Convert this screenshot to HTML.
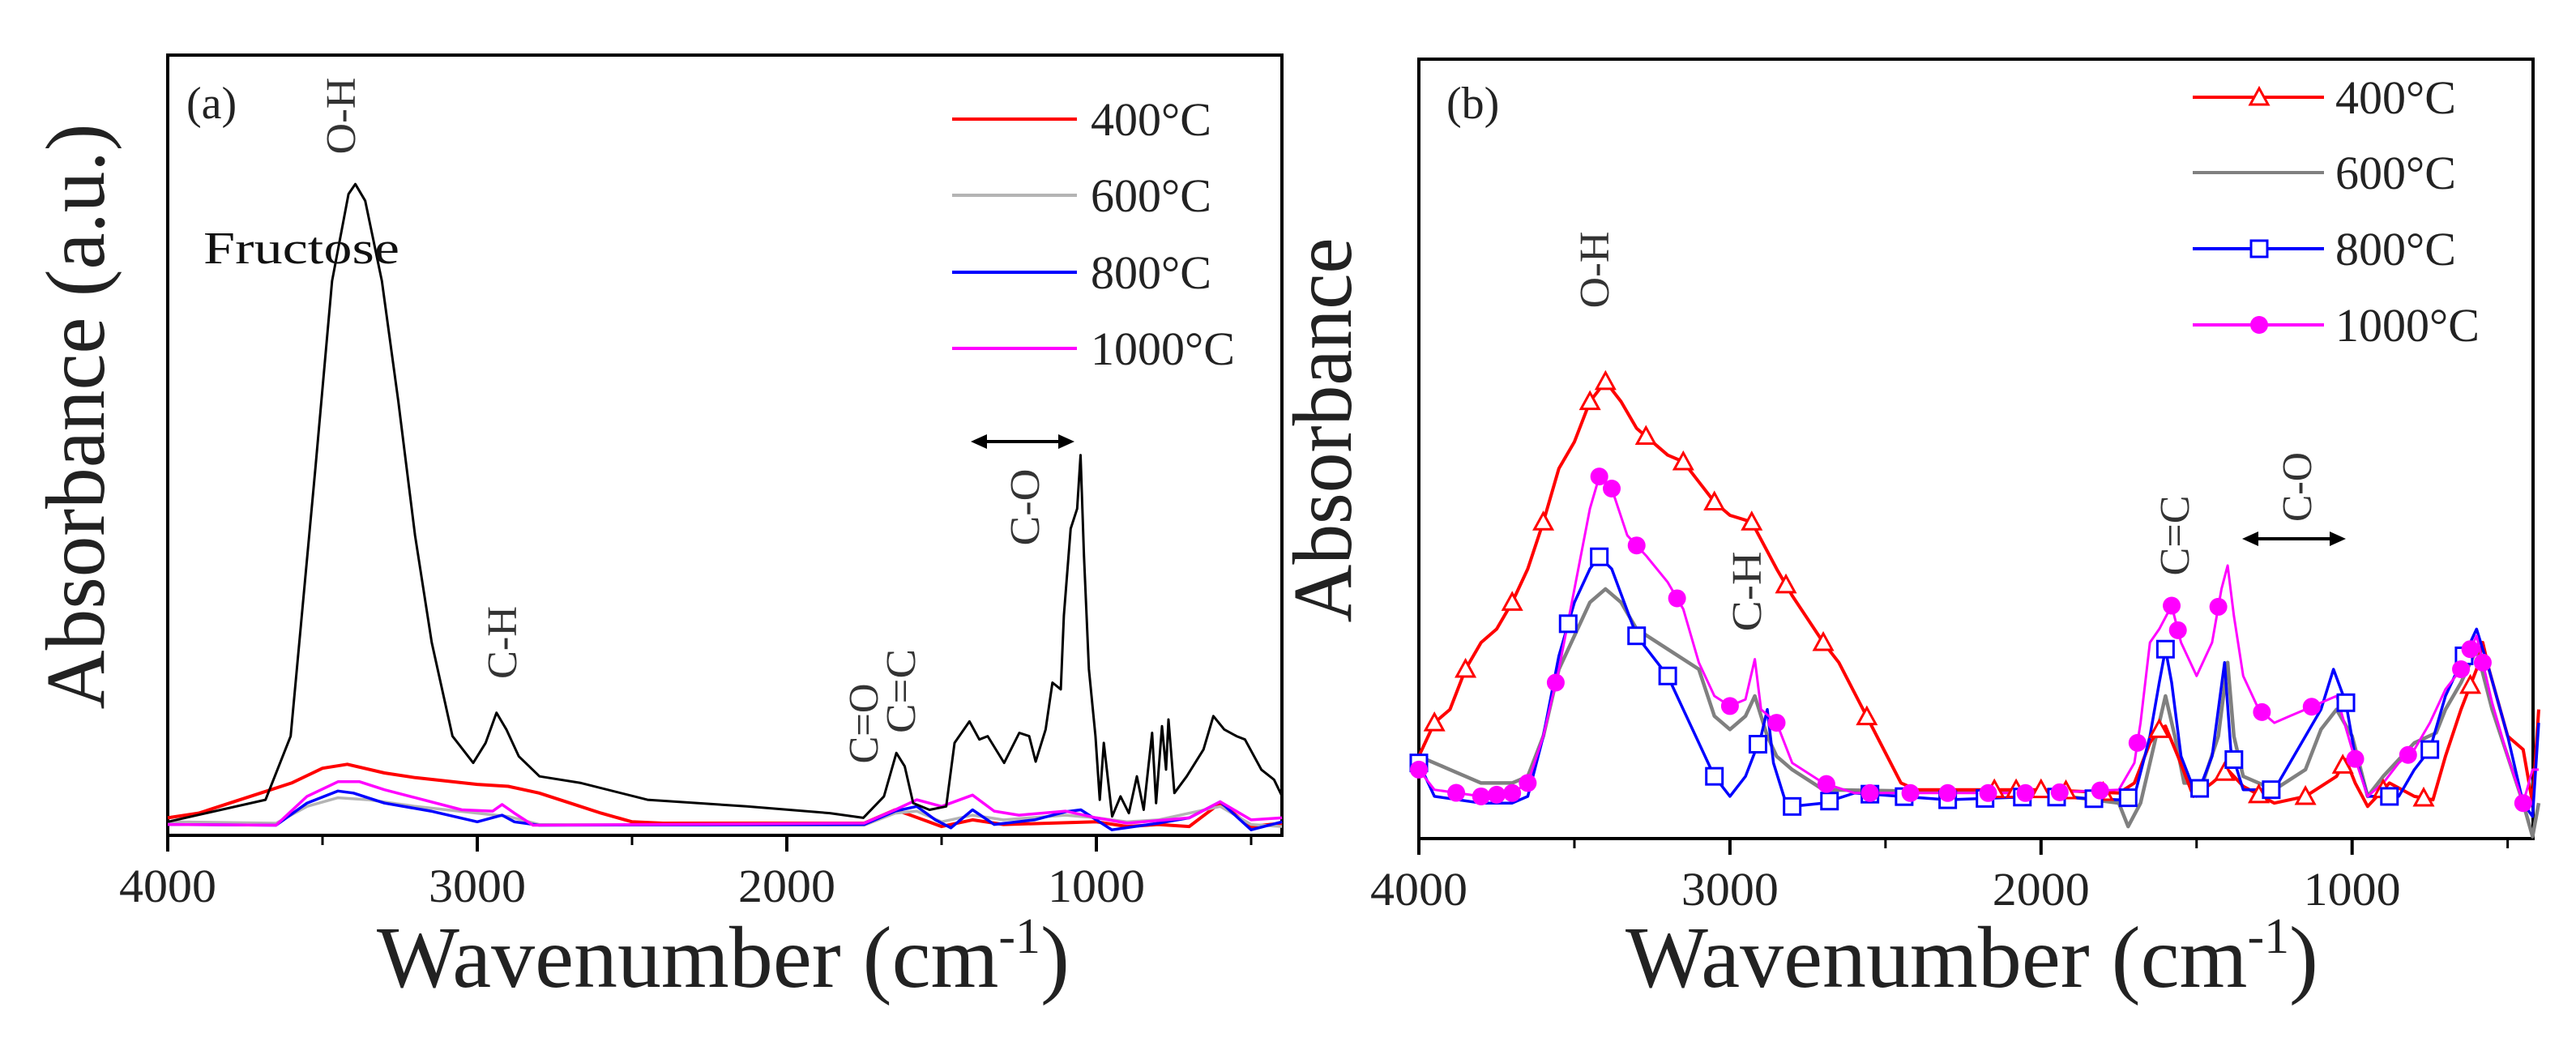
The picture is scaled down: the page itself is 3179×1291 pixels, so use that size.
<!DOCTYPE html>
<html><head><meta charset="utf-8"><style>
html,body{margin:0;padding:0;background:#fff;}
svg{display:block;font-family:"Liberation Serif",serif;}
</style></head><body>
<svg id="chart" width="3179" height="1291" viewBox="0 0 3179 1291" xmlns="http://www.w3.org/2000/svg">
<rect width="3179" height="1291" fill="#fff"/>
<g id="pa"></g>
<g id="pb"></g>
</svg>
<script>
const ticksWn = [4000, 3000, 2000, 1000];
const tickLabels = ["4000", "3000", "2000", "1000"];
const minorWn = [3500, 2500, 1500, 500];
const legendLabels = ["400°C", "600°C", "800°C", "1000°C"];

// Panel a data (wavenumber, absorbance a.u.)
const aFrucWn = [4000,3684,3603,3523,3469,3416,3394,3362,3308,3255,3201,3147,3080,3013,2973,2938,2906,2866,2799,2665,2450,2129,1861,1753,1686,1646,1619,1592,1539,1485,1458,1410,1378,1351,1298,1249,1217,1196,1164,1142,1115,1105,1083,1062,1051,1040,1024,1003,989,976,949,922,895,869,847,820,807,788,775,767,748,708,654,622,587,547,520,467,426,400];
const aFrucVal = [22,55,150,550,830,960,975,950,830,650,450,290,150,110,140,185,160,120,90,80,55,45,35,28,60,125,105,50,40,45,140,172,145,150,110,155,150,112,160,230,220,330,460,490,570,420,250,150,55,140,30,60,35,90,40,155,50,165,100,175,65,90,130,180,160,150,145,100,85,60];
const a400Wn = [4000,3900,3800,3700,3600,3500,3420,3300,3200,3000,2900,2800,2700,2600,2500,2400,1750,1650,1600,1500,1400,1300,1000,900,800,700,600,500,400];
const a400Val = [28,35,50,65,80,102,108,95,88,78,75,65,50,35,22,20,20,40,32,15,25,18,22,15,18,15,50,15,20];
const a600Wn = [4000,3650,3550,3450,3350,3200,3000,2900,2800,1750,1650,1580,1500,1400,1300,1100,1000,900,800,600,500,400];
const a600Val = [22,20,45,58,55,45,35,30,18,17,35,38,22,32,25,32,28,22,25,45,18,15];
const a800Wn = [4000,3650,3550,3450,3400,3300,3150,3000,2920,2880,2800,1750,1650,1580,1520,1470,1400,1330,1200,1100,1050,1000,950,800,700,600,500,400];
const a800Val = [18,17,50,68,65,50,38,22,32,22,17,18,38,45,25,13,40,18,25,37,40,25,10,20,28,52,10,22];
const a1000Wn = [4000,3650,3550,3450,3380,3300,3200,3050,2950,2920,2880,2820,1750,1650,1580,1500,1400,1330,1250,1100,1000,900,700,600,500,400];
const a1000Val = [18,17,60,82,82,70,58,40,38,48,35,17,20,40,55,45,62,38,32,38,28,20,28,52,25,28];

// Panel b data
const b400Wn = [4000,3950,3900,3850,3800,3750,3700,3650,3600,3550,3500,3450,3400,3350,3300,3200,3150,3100,3050,3000,2930,2850,2800,2700,2650,2550,2450,2400,2000,1750,1700,1650,1620,1600,1560,1510,1450,1400,1350,1250,1150,1050,1020,990,950,880,800,740,700,650,600,580,560,500,450,420,400];
const b400Val = [120,170,190,250,290,310,350,400,470,550,590,650,680,650,610,570,560,530,500,480,470,400,360,290,260,170,80,70,70,65,80,140,160,165,120,60,80,100,75,50,60,90,115,80,45,80,60,55,120,190,250,290,250,150,130,50,190];
const b600Wn = [4000,3900,3800,3700,3650,3600,3550,3500,3450,3400,3350,3300,3200,3100,3050,3000,2950,2920,2880,2850,2800,2700,2000,1750,1720,1680,1650,1620,1600,1570,1540,1480,1430,1400,1380,1350,1250,1150,1100,1050,1000,950,900,800,730,700,650,600,550,500,450,420,400];
const b600Val = [120,100,80,80,90,150,250,300,350,370,350,310,280,250,180,160,180,210,150,120,100,70,65,50,15,50,110,170,210,150,80,80,150,260,150,90,70,100,160,190,150,60,90,140,155,190,230,280,190,120,50,0,50];
const b800Wn = [4000,3950,3800,3700,3650,3600,3550,3500,3450,3420,3380,3300,3200,3150,3100,3050,3000,2950,2900,2880,2860,2820,2800,2700,2600,2300,2000,1750,1700,1650,1620,1600,1580,1550,1500,1450,1410,1390,1350,1250,1150,1100,1060,1020,990,950,850,800,750,700,650,600,560,500,450,420,400];
const b800Val = [110,60,50,50,60,150,270,350,400,418,400,300,240,190,140,90,60,90,150,190,110,50,45,50,65,55,60,55,60,150,230,280,230,120,60,120,260,130,70,70,150,190,250,200,120,60,60,100,130,210,260,310,250,150,50,30,170];
const b1000Wn = [4000,3950,3800,3700,3650,3600,3550,3500,3450,3420,3380,3330,3270,3200,3150,3100,3050,3000,2950,2920,2900,2850,2800,2700,2600,2000,1750,1700,1680,1650,1620,1580,1550,1500,1450,1420,1400,1380,1350,1300,1250,1200,1150,1100,1050,1000,950,900,850,800,750,700,650,600,550,500,450,420,400];
const b1000Val = [100,70,60,65,80,150,250,370,490,538,520,450,420,380,340,260,210,195,205,265,190,170,110,80,65,65,70,110,170,290,310,345,290,240,290,370,405,330,240,190,170,180,190,200,210,130,60,80,110,130,170,220,250,300,200,120,50,100,100];
// marker wavenumbers
const b400Mk = [3950,3850,3700,3600,3450,3400,3270,3150,3050,2930,2820,2700,2560,2150,2080,2000,1920,1800,1620,1410,1300,1150,1030,900,770,620];
const b800Mk = [4000,3520,3420,3300,3200,3050,2910,2800,2680,2550,2440,2300,2180,2060,1950,1830,1720,1600,1490,1380,1260,1020,880,750,640];
const b1000Mk = [4000,3880,3800,3750,3700,3650,3560,3420,3380,3300,3170,3000,2850,2690,2550,2420,2300,2170,2050,1940,1810,1690,1580,1560,1430,1290,1130,990,820,650,620,580,450];

const NS = "http://www.w3.org/2000/svg";
function el(tag, attrs, parent, text){
  const e = document.createElementNS(NS, tag);
  for (const k in attrs) e.setAttribute(k, attrs[k]);
  if (text !== undefined) e.textContent = text;
  parent.appendChild(e); return e;
}
const yScale = v => 1032.5 - v * 0.826;
function interp(wn, vals, w){
  for (let i=0;i<wn.length-1;i++){
    if (w<=wn[i] && w>=wn[i+1]){ const t=(wn[i]-w)/(wn[i]-wn[i+1]); return vals[i]+t*(vals[i+1]-vals[i]); }
  }
  return vals[vals.length-1];
}
function series(g, xS, wn, vals, color, width, name){
  const d = wn.map((w,i)=>(i?'L':'M')+xS(w).toFixed(1)+','+yScale(vals[i]).toFixed(1)).join(' ');
  const p = el('path',{d:d,fill:'none',stroke:color,'stroke-width':width,'stroke-linejoin':'round'},g);
  
  
}
function marker(g, type, cx, cy, color, name){
  let m;
  if (type==='tri') m = el('polygon',{points:`${cx},${cy-11} ${cx-11},${cy+9} ${cx+11},${cy+9}`,fill:'#fff',stroke:color,'stroke-width':3},g);
  else if (type==='sq') m = el('rect',{x:cx-10,y:cy-10,width:20,height:20,fill:'#fff',stroke:color,'stroke-width':3},g);
  else m = el('circle',{cx:cx,cy:cy,r:11,fill:color},g);
  
  
}
function axes(g, L, R, T, B, xS, ytitle, ytLen, ytX, ytY, letter, lx){
  const f = el('rect',{x:L,y:T,width:R-L,height:B-T,fill:'none',stroke:'#000','stroke-width':4},g);
  
  
  ticksWn.forEach((w,i)=>{
    const x = xS(w);
    const t = el('line',{x1:x,x2:x,y1:B,y2:B+20,stroke:'#000','stroke-width':4},g);
    
    
    const lb = el('text',{x:x,y:B+82,'font-size':58,'text-anchor':'middle',textLength:120,lengthAdjust:'spacingAndGlyphs',fill:'#222'},g,tickLabels[i]);
    
    
  });
  minorWn.forEach(w=>{
    const x = xS(w);
    const t = el('line',{x1:x,x2:x,y1:B,y2:B+12,stroke:'#000','stroke-width':3},g);
    
    
  });
  const xt = el('text',{x:(L+R)/2+ (L<1000? -2 : -5),y:1218,'font-size':108,'text-anchor':'middle',textLength:855,lengthAdjust:'spacingAndGlyphs',fill:'#222'},g);
  
  
  xt.appendChild(document.createTextNode('Wavenumber (cm'));
  const sup = el('tspan',{dy:-42,'font-size':62},xt,'-1');
  const cl = el('tspan',{dy:42},xt,')');
  const yt = el('text',{x:0,y:0,'font-size':104,'text-anchor':'middle',textLength:ytLen,lengthAdjust:'spacingAndGlyphs',fill:'#222',transform:`translate(${ytX},${ytY}) rotate(-90)`},g,ytitle);
  
  
  const pl = el('text',{x:lx,y:146,'font-size':56,fill:'#222'},g,letter);
  
  
}
function vlabel(g, txt, x, yc, len, name){
  const t = el('text',{x:0,y:0,'font-size':52,'text-anchor':'middle',textLength:len,lengthAdjust:'spacingAndGlyphs',fill:'#333',transform:`translate(${x+18},${yc}) rotate(-90)`},g,txt);
  
  
}
function arrow(g, x1, x2, y){
  const a = el('g',{},g);
  
  
  el('line',{x1:x1+10,x2:x2-10,y1:y,y2:y,stroke:'#000','stroke-width':4},a);
  el('polygon',{points:`${x1},${y} ${x1+20},${y-9} ${x1+20},${y+9}`,fill:'#000'},a);
  el('polygon',{points:`${x2},${y} ${x2-20},${y-9} ${x2-20},${y+9}`,fill:'#000'},a);
}

// ---------- Panel a ----------
const ga = document.getElementById('pa');
const xA = w => 207 + (4000 - w) * 0.382;
axes(ga, 207, 1582, 68, 1031, xA, 'Absorbance (a.u.)', 723, 128, 514, '(a)', 230);
series(ga, xA, a400Wn, a400Val, '#ff0000', 4, 'series-400c');
series(ga, xA, a600Wn, a600Val, '#b4b4b4', 3.5, 'series-600c');
series(ga, xA, a800Wn, a800Val, '#0000ff', 3.5, 'series-800c');
series(ga, xA, a1000Wn, a1000Val, '#ff00ff', 3.5, 'series-1000c');
series(ga, xA, aFrucWn, aFrucVal, '#000', 3, 'series-fructose');
const fr = el('text',{x:251,y:325,'font-size':56,textLength:242,lengthAdjust:'spacingAndGlyphs',fill:'#111'},ga,'Fructose');


vlabel(ga,'O-H',420,143,95,'oh-label');
vlabel(ga,'C-H',619,793,90,'ch-label');
vlabel(ga,'C=O',1065,893,99,'co-double-label');
vlabel(ga,'C=C',1111,853,104,'cc-label');
vlabel(ga,'C-O',1264,626,95,'co-label');
arrow(ga,1198,1326,545);
const legA = [['#ff0000',147],['#b4b4b4',241],['#0000ff',336],['#ff00ff',430]];
legA.forEach((l,i)=>{
  const g = el('g',{},ga);
  
  
  el('line',{x1:1175,x2:1329,y1:l[1],y2:l[1],stroke:l[0],'stroke-width':4},g);
  el('text',{x:1346,y:l[1]+20,'font-size':58,fill:'#222'},g,legendLabels[i]);
});

// ---------- Panel b ----------
const gb = document.getElementById('pb');
const xB = w => 1751 + (4000 - w) * 0.3839;
axes(gb, 1751, 3126, 73, 1035, xB, 'Absorbance', 475, 1667, 531, '(b)', 1785);
series(gb, xB, b600Wn, b600Val, '#808080', 4.5, 'series-600c');
series(gb, xB, b400Wn, b400Val, '#ff0000', 4, 'series-400c');
series(gb, xB, b800Wn, b800Val, '#0000ff', 3.5, 'series-800c');
series(gb, xB, b1000Wn, b1000Val, '#ff00ff', 3, 'series-1000c');
b400Mk.forEach(w=>marker(gb,'tri',xB(w),yScale(interp(b400Wn,b400Val,w)),'#ff0000','marker-400c'));
b800Mk.forEach(w=>marker(gb,'sq',xB(w),yScale(interp(b800Wn,b800Val,w)),'#0000ff','marker-800c'));
b1000Mk.forEach(w=>marker(gb,'dot',xB(w),yScale(interp(b1000Wn,b1000Val,w)),'#ff00ff','marker-1000c'));
vlabel(gb,'O-H',1967,333,95,'oh-label');
vlabel(gb,'C-H',2155,730,99,'ch-label');
vlabel(gb,'C=C',2683,661,99,'cc-label');
vlabel(gb,'C-O',2834,601,86,'co-label');
arrow(gb,2767,2895,665);
const legB = [['#ff0000',120,'tri'],['#808080',213,''],['#0000ff',307,'sq'],['#ff00ff',401,'dot']];
legB.forEach((l,i)=>{
  const g = el('g',{},gb);
  
  
  el('line',{x1:2706,x2:2868,y1:l[1],y2:l[1],stroke:l[0],'stroke-width':4},g);
  if (l[2]) marker(g,l[2],2788,l[1],l[0],'legend-marker');
  el('text',{x:2882,y:l[1]+20,'font-size':58,fill:'#222'},g,legendLabels[i]);
});
</script>
</body></html>
